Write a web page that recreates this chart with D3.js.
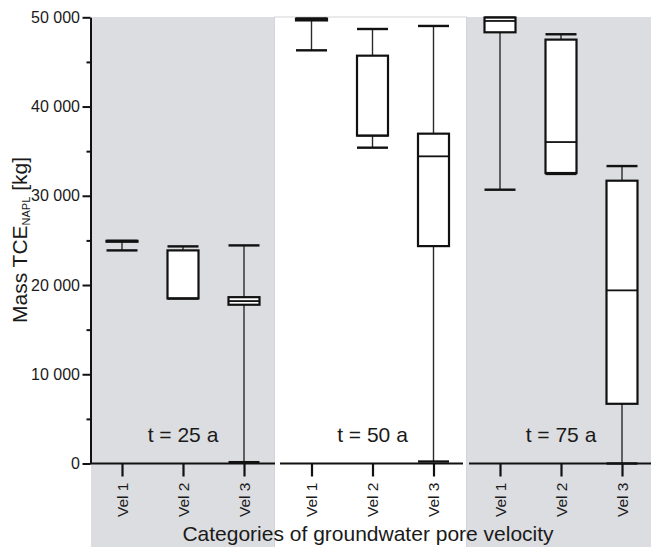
<!DOCTYPE html>
<html>
<head>
<meta charset="utf-8">
<script src="https://cdn.jsdelivr.net/npm/d3@7"></script>
<style>
body { margin: 0; background: #fff; }
text { font-family: Arial, "Liberation Sans", Helvetica, sans-serif; fill: #1a1a1a; }
</style>
</head>
<body>
<div id="chart"></div>
<script>
// Data: [min, q1, median, q3, max] for each velocity category
const periods = ["t = 25 a", "t = 50 a", "t = 75 a"];
const categories = ["Vel 1", "Vel 2", "Vel 3"];
const stats25 = [
    [23880, 24850, 24900, 24950, 24950],
    [18500, 18500, 18500, 23880, 24330],
    [150, 17790, 18200, 18640, 24440]
];
const stats50 = [
    [46300, 49650, 49750, 49850, 49850],
    [35390, 36740, 36740, 45700, 48690],
    [220, 24360, 34420, 36960, 49030]
];
const stats75 = [
    [30680, 48320, 49590, 49970, 49970],
    [32450, 32550, 36020, 47500, 48100],
    [0, 6690, 19400, 31690, 33330]
];
const yTicks = [0, 10000, 20000, 30000, 40000, 50000];
const yMinorTicks = [5000, 15000, 25000, 35000, 45000];

const allStats = [stats25, stats50, stats75];

// Layout
const width = 651, height = 547;
const axisX = 90.5;
const panelEdges = [[91, 274], [274, 467], [467, 651]];
const panelCenters = [183, 372.5, 561];
const axisEnds = [[90, 275], [280, 463], [469, 651]];
const catStep = 61;
const boxWidth = 31;

const svg = d3.select("#chart")
    .append("svg")
        .attr("width", width)
        .attr("height", height);

const y = d3.scaleLinear()
    .domain([0, 50000])
    .range([463.5, 17.3]);

// Panel backgrounds
panelEdges.forEach((e, i) => {
    svg.append("rect")
        .attr("x", e[0] + (i === 1 ? 0.5 : 0))
        .attr("y", 17)
        .attr("width", e[1] - e[0] - (i === 1 ? 1 : 0))
        .attr("height", height - 17 + 2)
        .attr("fill", i === 1 ? "#ffffff" : "#dcdde0")
        .attr("stroke", i === 1 ? "#d4d5d8" : "none")
        .attr("stroke-width", 1);
});

// Y axis
const fmt = d => d3.format(",")(d).replace(/,/g, " ");
const yAxis = svg.append("g")
    .attr("transform", `translate(${axisX}, 0)`)
    .call(d3.axisLeft(y).tickValues(yTicks).tickSize(8).tickSizeOuter(0).tickFormat(fmt));
yAxis.select(".domain").attr("stroke", "#111").attr("stroke-width", 2);
yAxis.selectAll(".tick line").attr("stroke", "#111").attr("stroke-width", 2);
yAxis.selectAll(".tick text")
    .attr("x", -10.5)
    .style("font-size", "16px")
    .style("fill", "#1a1a1a");

const yMinor = svg.append("g")
    .attr("transform", `translate(${axisX}, 0)`)
    .call(d3.axisLeft(y).tickValues(yMinorTicks).tickSize(4).tickFormat(""));
yMinor.select(".domain").remove();
yMinor.selectAll(".tick line").attr("stroke", "#111").attr("stroke-width", 2);

// Panels
allStats.forEach((stats, p) => {
    const c = panelCenters[p];
    const x = d3.scalePoint()
        .domain(categories)
        .range([c - catStep, c + catStep]);

    const g = svg.append("g");

    // period label
    g.append("text")
        .attr("x", c)
        .attr("y", 442)
        .attr("text-anchor", "middle")
        .style("font-size", "21px")
        .text(periods[p]);

    const boxes = g.selectAll("g.box")
        .data(stats)
        .join("g")
            .attr("class", "box")
            .attr("transform", (d, i) => `translate(${x(categories[i])}, 0)`);

    // whisker
    boxes.append("line")
        .attr("x1", 0).attr("x2", 0)
        .attr("y1", d => y(d[0]))
        .attr("y2", d => y(d[4]))
        .attr("stroke", "#2a2a2a")
        .attr("stroke-width", 1.4);

    // caps
    boxes.selectAll("line.cap")
        .data(d => [d[0], d[4]])
        .join("line")
            .attr("class", "cap")
            .attr("x1", -boxWidth / 2).attr("x2", boxWidth / 2)
            .attr("y1", v => y(v)).attr("y2", v => y(v))
            .attr("stroke", "#111")
            .attr("stroke-width", 2.4);

    // box
    boxes.append("rect")
        .attr("x", -boxWidth / 2)
        .attr("width", boxWidth)
        .attr("y", d => y(d[3]))
        .attr("height", d => y(d[1]) - y(d[3]))
        .attr("fill", "#fff")
        .attr("stroke", "#111")
        .attr("stroke-width", 2.2);

    // median
    boxes.append("line")
        .attr("x1", -boxWidth / 2).attr("x2", boxWidth / 2)
        .attr("y1", d => y(d[2])).attr("y2", d => y(d[2]))
        .attr("stroke", "#111")
        .attr("stroke-width", 1.8);

    // x axis of the panel
    const xAxis = svg.append("g")
        .attr("transform", `translate(0, ${y(0)})`)
        .call(d3.axisBottom(x).tickSize(13).tickSizeOuter(0));
    xAxis.select(".domain").remove();
    xAxis.append("line")
        .attr("x1", axisEnds[p][0]).attr("x2", axisEnds[p][1])
        .attr("stroke", "#111")
        .attr("stroke-width", 2.2);
    xAxis.selectAll(".tick line").attr("stroke", "#111").attr("stroke-width", 2.2);
    xAxis.selectAll(".tick text")
        .attr("transform", "rotate(-90)")
        .attr("x", -19)
        .attr("y", 0)
        .attr("dy", "0.35em")
        .attr("text-anchor", "end")
        .style("font-size", "15.5px")
        .style("fill", "#1a1a1a");
});

// Axis titles
const yTitle = svg.append("text")
    .attr("transform", "translate(27, 240) rotate(-90)")
    .attr("text-anchor", "middle")
    .style("font-size", "21px");
yTitle.append("tspan").text("Mass TCE");
yTitle.append("tspan").text("NAPL").style("font-size", "11px").attr("dy", 3);
yTitle.append("tspan").text(" [kg]").attr("dy", -3);

svg.append("text")
    .attr("x", 368)
    .attr("y", 541)
    .attr("text-anchor", "middle")
    .style("font-size", "21px")
    .text("Categories of groundwater pore velocity");
</script>
</body>
</html>
